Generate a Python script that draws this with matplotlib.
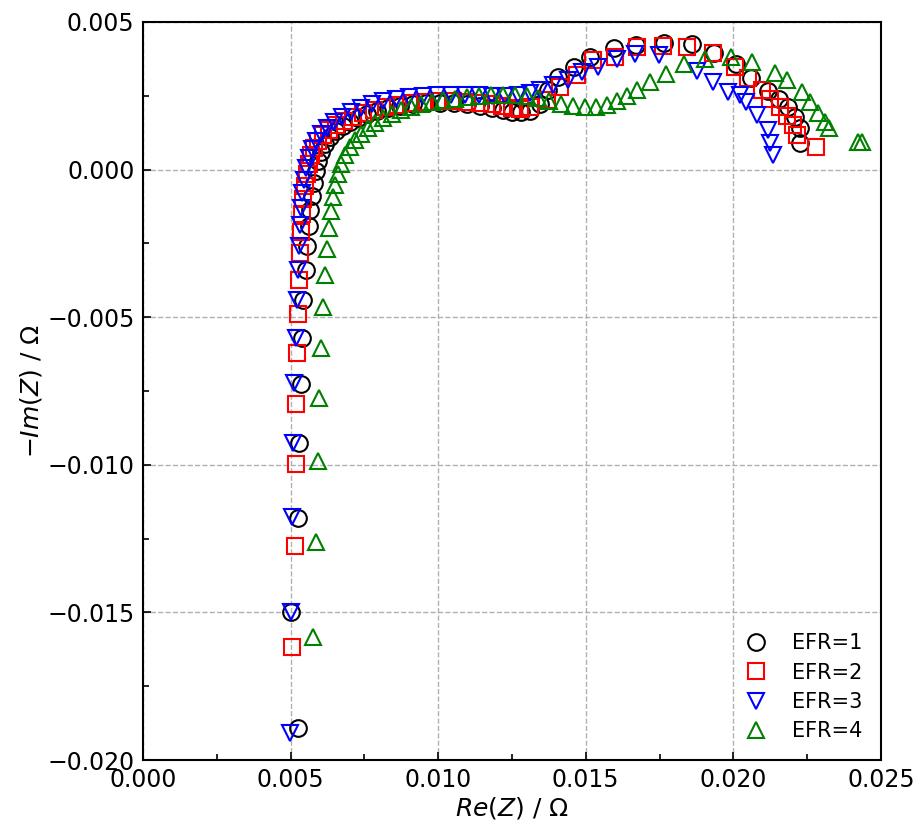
import matplotlib
matplotlib.use("Agg")
import matplotlib.pyplot as plt
from matplotlib.ticker import MultipleLocator, FuncFormatter

# EFR=1
re1 = [0.00525, 0.00501, 0.00525, 0.00528, 0.00535, 0.00539, 0.00542, 0.00552, 0.00556, 0.00562,
       0.00566, 0.00572, 0.00579, 0.00586, 0.00593, 0.00603, 0.00617, 0.00633, 0.00654, 0.00678,
       0.00701, 0.00728, 0.00759, 0.00793, 0.00830, 0.00871, 0.00915, 0.00959, 0.01006, 0.01054,
       0.01098, 0.01142, 0.01182, 0.01220, 0.01250, 0.01280, 0.01311, 0.01345, 0.01372, 0.01406,
       0.01460, 0.01514, 0.01596, 0.01670, 0.01765, 0.01860, 0.01934, 0.02009, 0.02060, 0.02117,
       0.02154, 0.02185, 0.02209, 0.02226, 0.02226]
im1 = [-0.01892, -0.01499, -0.01181, -0.00926, -0.00726, -0.00571, -0.00442, -0.00340, -0.00259, -0.00191,
       -0.00137, -0.00090, -0.00045, -0.00005, 0.00029, 0.00060, 0.00087, 0.00110, 0.00131, 0.00148,
       0.00161, 0.00175, 0.00188, 0.00199, 0.00209, 0.00215, 0.00222, 0.00226, 0.00226, 0.00226,
       0.00222, 0.00215, 0.00209, 0.00202, 0.00195, 0.00195, 0.00199, 0.00222, 0.00270, 0.00313,
       0.00347, 0.00381, 0.00412, 0.00422, 0.00429, 0.00426, 0.00395, 0.00358, 0.00310, 0.00266,
       0.00239, 0.00212, 0.00178, 0.00141, 0.00090]

# EFR=2
re2 = [0.00505, 0.00515, 0.00518, 0.00518, 0.00522, 0.00525, 0.00528, 0.00532, 0.00535, 0.00539,
       0.00542, 0.00549, 0.00556, 0.00562, 0.00569, 0.00579, 0.00593, 0.00610, 0.00630, 0.00654,
       0.00681, 0.00711, 0.00745, 0.00783, 0.00823, 0.00864, 0.00908, 0.00955, 0.01003, 0.01050,
       0.01098, 0.01142, 0.01182, 0.01216, 0.01250, 0.01277, 0.01311, 0.01369, 0.01413, 0.01470,
       0.01524, 0.01599, 0.01673, 0.01762, 0.01843, 0.01931, 0.02005, 0.02049, 0.02097, 0.02124,
       0.02158, 0.02182, 0.02202, 0.02215, 0.02280]
im2 = [-0.01617, -0.01275, -0.00997, -0.00794, -0.00622, -0.00490, -0.00374, -0.00283, -0.00211, -0.00150,
       -0.00100, -0.00056, -0.00015, 0.00019, 0.00049, 0.00073, 0.00097, 0.00117, 0.00134, 0.00151,
       0.00165, 0.00178, 0.00192, 0.00202, 0.00212, 0.00219, 0.00226, 0.00229, 0.00232, 0.00232,
       0.00229, 0.00226, 0.00222, 0.00215, 0.00209, 0.00205, 0.00212, 0.00236, 0.00280, 0.00320,
       0.00371, 0.00381, 0.00415, 0.00419, 0.00415, 0.00395, 0.00348, 0.00310, 0.00270, 0.00239,
       0.00212, 0.00182, 0.00151, 0.00117, 0.00077]

# EFR=3
re3 = [0.00498, 0.00501, 0.00505, 0.00508, 0.00512, 0.00518, 0.00522, 0.00525, 0.00528, 0.00532,
       0.00535, 0.00539, 0.00545, 0.00552, 0.00562, 0.00572, 0.00586, 0.00603, 0.00623, 0.00647,
       0.00674, 0.00705, 0.00738, 0.00776, 0.00813, 0.00857, 0.00901, 0.00949, 0.00996, 0.01043,
       0.01091, 0.01138, 0.01182, 0.01226, 0.01270, 0.01311, 0.01345, 0.01389, 0.01440, 0.01487,
       0.01541, 0.01606, 0.01667, 0.01748, 0.01877, 0.01931, 0.01982, 0.02022, 0.02043, 0.02080,
       0.02117, 0.02124, 0.02134]
im3 = [-0.01909, -0.01499, -0.01177, -0.00926, -0.00723, -0.00571, -0.00442, -0.00340, -0.00259, -0.00188,
       -0.00130, -0.00079, -0.00035, 0.00005, 0.00039, 0.00070, 0.00097, 0.00121, 0.00141, 0.00161,
       0.00178, 0.00195, 0.00209, 0.00222, 0.00232, 0.00239, 0.00246, 0.00249, 0.00253, 0.00253,
       0.00253, 0.00253, 0.00249, 0.00249, 0.00253, 0.00259, 0.00270, 0.00287, 0.00304, 0.00330,
       0.00347, 0.00375, 0.00392, 0.00388, 0.00334, 0.00297, 0.00263, 0.00253, 0.00229, 0.00185,
       0.00134, 0.00090, 0.00049]

# EFR=4
re4 = [0.00583, 0.00576, 0.00586, 0.00593, 0.00596, 0.00603, 0.00610, 0.00617, 0.00623, 0.00630,
       0.00637, 0.00644, 0.00650, 0.00661, 0.00671, 0.00684, 0.00701, 0.00718, 0.00738, 0.00762,
       0.00786, 0.00813, 0.00843, 0.00874, 0.00908, 0.00942, 0.00979, 0.01016, 0.01057, 0.01098,
       0.01138, 0.01179, 0.01220, 0.01260, 0.01301, 0.01338, 0.01375, 0.01416, 0.01457, 0.01497,
       0.01535, 0.01572, 0.01606, 0.01640, 0.01673, 0.01717, 0.01772, 0.01833, 0.01904, 0.01992,
       0.02063, 0.02141, 0.02182, 0.02232, 0.02260, 0.02287, 0.02310, 0.02324, 0.02422, 0.02436]
im4 = [-0.02030, -0.01584, -0.01262, -0.00987, -0.00774, -0.00605, -0.00466, -0.00357, -0.00269, -0.00198,
       -0.00141, -0.00093, -0.00052, -0.00015, 0.00019, 0.00049, 0.00077, 0.00100, 0.00121, 0.00141,
       0.00158, 0.00175, 0.00188, 0.00202, 0.00212, 0.00222, 0.00229, 0.00236, 0.00239, 0.00246,
       0.00249, 0.00253, 0.00253, 0.00253, 0.00249, 0.00243, 0.00232, 0.00222, 0.00215, 0.00212,
       0.00212, 0.00219, 0.00232, 0.00249, 0.00270, 0.00297, 0.00324, 0.00358, 0.00375, 0.00381,
       0.00364, 0.00327, 0.00304, 0.00263, 0.00229, 0.00192, 0.00161, 0.00141, 0.00093, 0.00093]

series = [
    (re1, im1, 'o', 'black', 'EFR=1'),
    (re2, im2, 's', 'red', 'EFR=2'),
    (re3, im3, 'v', 'blue', 'EFR=3'),
    (re4, im4, '^', 'green', 'EFR=4'),
]

fig = plt.figure(figsize=(9.22, 8.27), dpi=100)
ax = fig.add_axes([0.155, 0.081, 0.8005, 0.8925])

for x, y, m, c, lab in series:
    ax.plot(x, y, linestyle='none', marker=m, markersize=12, markerfacecolor='none',
            markeredgecolor=c, markeredgewidth=1.5, label=lab)

ax.set_xlim(0, 0.025)
ax.set_ylim(-0.020, 0.005)
ax.xaxis.set_major_locator(MultipleLocator(0.005))
ax.yaxis.set_major_locator(MultipleLocator(0.005))
ax.xaxis.set_minor_locator(MultipleLocator(0.0025))
ax.yaxis.set_minor_locator(MultipleLocator(0.0025))
fmt = FuncFormatter(lambda v, p: ('%.3f' % v).replace('-', '\u2212'))
ax.xaxis.set_major_formatter(fmt)
ax.yaxis.set_major_formatter(fmt)
ax.tick_params(which='both', direction='in', labelsize=17, width=1.2)
ax.tick_params(which='major', length=6, pad=6)
ax.tick_params(which='minor', length=4)
ax.grid(True, which='major', linestyle='--', color='#b0b0b0', linewidth=1)
ax.set_axisbelow(True)
for s in ax.spines.values():
    s.set_linewidth(1.5)

ax.set_xlabel(r'$Re(Z)$ / Ω', fontsize=18, labelpad=2)
ax.set_ylabel(r'$-Im(Z)$ / Ω', fontsize=18, labelpad=2)
ax.legend(loc='lower right', frameon=False, fontsize=15, handletextpad=0.7,
          labelspacing=0.45, borderaxespad=0.5)

fig.savefig('out.png', dpi=100)
